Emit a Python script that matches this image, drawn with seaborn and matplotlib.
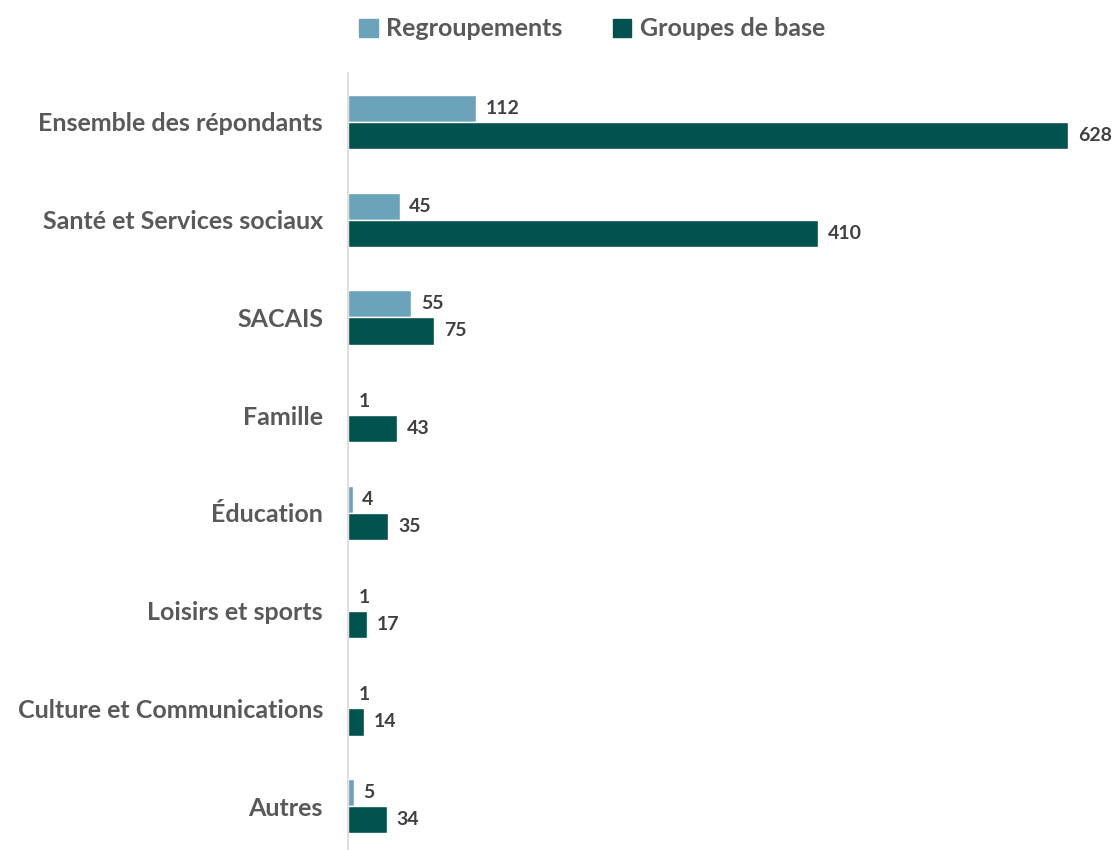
import matplotlib
matplotlib.use("Agg")
import matplotlib.pyplot as plt
import seaborn as sns
import pandas as pd

categories = [
    "Ensemble des répondants",
    "Santé et Services sociaux",
    "SACAIS",
    "Famille",
    "Éducation",
    "Loisirs et sports",
    "Culture et Communications",
    "Autres",
]
regroupements = [112, 45, 55, 1, 4, 1, 1, 5]
groupes_de_base = [628, 410, 75, 43, 35, 17, 14, 34]
series_names = ["Regroupements", "Groupes de base"]

df = pd.DataFrame({
    "categorie": categories * 2,
    "valeur": regroupements + groupes_de_base,
    "serie": [series_names[0]] * len(categories) + [series_names[1]] * len(categories),
})

sns.set_theme(style="white")
plt.rcParams["font.family"] = ["Lato", "DejaVu Sans"]

fig = plt.figure(figsize=(11.13, 8.5), dpi=100)
ax = fig.add_axes([348 / 1113, -0.006, (1105 - 348) / 1113, 0.92])

palette = {"Regroupements": "#6BA3BB", "Groupes de base": "#02524F"}
sns.barplot(
    data=df, x="valeur", y="categorie", hue="serie", orient="h",
    order=categories, hue_order=series_names, palette=palette,
    width=0.553, saturation=1, ax=ax, legend=False,
)

ax.set_xlim(0, 660)
ax.set_xlabel("")
ax.set_ylabel("")
ax.set_xticks([])
for s in ["top", "right", "bottom"]:
    ax.spines[s].set_visible(False)
ax.spines["left"].set_color("#D9D9D9")
ax.spines["left"].set_linewidth(1.2)
ax.tick_params(axis="y", length=0, pad=18)
for lbl in ax.get_yticklabels():
    lbl.set_fontsize(18)
    lbl.set_fontweight("bold")
    lbl.set_color("#595959")

for container in ax.containers:
    ax.bar_label(container, padding=7, fontsize=14, fontweight="bold", color="#404040")

handles = [plt.Rectangle((0, 0), 1, 1, color=palette[n]) for n in series_names]
fig.legend(
    handles, series_names, loc="upper center", bbox_to_anchor=(0.532, 1.006),
    ncol=2, frameon=False, handlelength=0.75, handleheight=0.75, handletextpad=0.35,
    columnspacing=2.0, prop={"size": 18, "weight": "bold"}, labelcolor="#595959",
)

fig.savefig("out.png", dpi=100)
